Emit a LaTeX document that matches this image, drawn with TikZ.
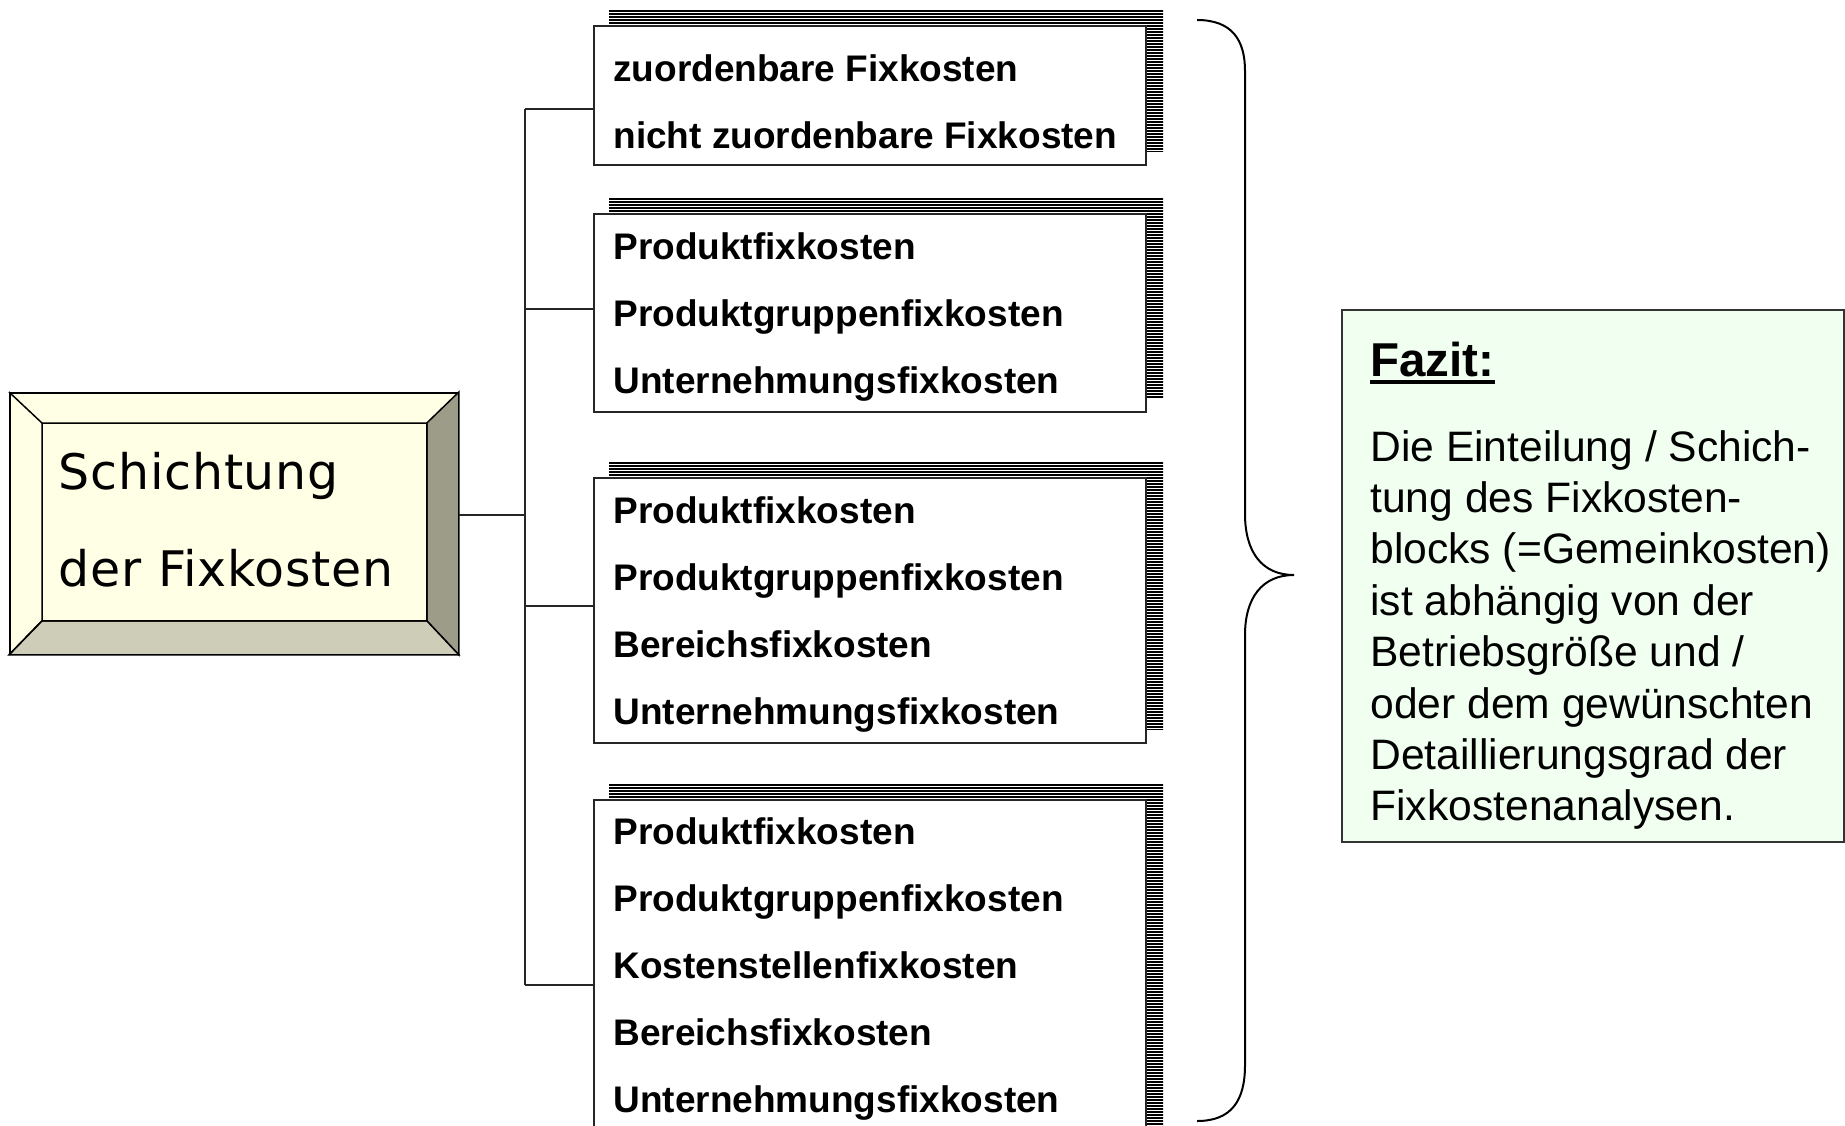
\documentclass[tikz,border=0pt]{standalone}
\usepackage{fontspec}
\setmainfont{Liberation Sans}
\newfontfamily\titlefont[LetterSpace=1.5]{DejaVu Sans}
\usetikzlibrary{calc,backgrounds}

\definecolor{bevelface}{HTML}{FFFFE6}
\definecolor{bevelright}{HTML}{9C9C88}
\definecolor{bevelbottom}{HTML}{CDCDB8}
\definecolor{fazitgreen}{HTML}{F0FFF0}

\tikzset{
  listbox/.style={draw=black!85, line width=1pt, fill=white, anchor=north west,
    minimum width=276pt, inner sep=0pt},
  rowtext/.style={anchor=base west, inner sep=0pt, font=\bfseries\fontsize{18.5}{22}\selectfont},
  fazittext/.style={anchor=base west, inner sep=0pt, font=\fontsize{21.3}{25}\selectfont},
  stripe/.style={line width=0.85pt, black},
  link/.style={line width=0.9pt, black!85},
}

% striped shadow behind a list box
\newcommand{\boxshadow}[1]{%
  \begin{scope}[on background layer]
    \begin{scope}
      \clip ($(#1.north west)+(16,-15)$) rectangle ($(#1.south east)+(16,-15)$);
      \foreach \k in {0,...,120}
        \draw[stripe] ($(#1.north west)+(0,-14+3*\k)$) -- ++(600,0);
    \end{scope}
  \end{scope}}

\begin{document}
\begin{tikzpicture}[x=0.5pt, y=-0.5pt]
  \useasboundingbox (0,0) rectangle (1845,1125);
  \begin{scope}[on background layer]
    \fill[white] (0,0) rectangle (1845,1125);
  \end{scope}

  % title block with bevel
  \node[draw, line width=0.9pt, fill=bevelface, anchor=north west, minimum width=224pt,
    minimum height=130.5pt, text width=175pt, inner xsep=24.5pt, align=left,
    font=\titlefont\fontsize{24.5}{48.25}\selectfont] (title) at (9,392)
    {Schichtung\\der Fixkosten\rule[-4pt]{0pt}{4pt}};
  \coordinate (tnw) at ($(title.north west)+(33,31)$);
  \coordinate (tne) at ($(title.north east)+(-32,31)$);
  \coordinate (tse) at ($(title.south east)+(-32,-34)$);
  \coordinate (tsw) at ($(title.south west)+(33,-34)$);
  \draw[line width=0.75pt, fill=bevelright] (title.north east) -- (title.south east) -- (tse) -- (tne) -- cycle;
  \draw[line width=0.75pt, fill=bevelbottom] (title.south west) -- (title.south east) -- (tse) -- (tsw) -- cycle;
  \draw[line width=0.75pt] (title.north west) -- (tnw) (title.south west) -- (tsw) (tnw) rectangle (tse);

  % list boxes
  \node[listbox, minimum height=69.5pt] (b1) at (593,25) {};
  \foreach \t [count=\i from 0] in {zuordenbare Fixkosten, nicht zuordenbare Fixkosten}
    \node[rowtext] (b1r\i) at ($(b1.north west)+(20,56+67*\i)$) {\t};

  \node[listbox, minimum height=99pt] (b2) at (593,213) {};
  \foreach \t [count=\i from 0] in {Produktfixkosten, Produktgruppenfixkosten, Unternehmungsfixkosten}
    \node[rowtext] (b2r\i) at ($(b2.north west)+(20,46+67*\i)$) {\t};

  \node[listbox, minimum height=132.5pt] (b3) at (593,477) {};
  \foreach \t [count=\i from 0] in {Produktfixkosten, Produktgruppenfixkosten, Bereichsfixkosten, Unternehmungsfixkosten}
    \node[rowtext] (b3r\i) at ($(b3.north west)+(20,46+67*\i)$) {\t};

  \node[listbox, minimum height=170pt] (b4) at (593,799) {};
  \foreach \t [count=\i from 0] in {Produktfixkosten, Produktgruppenfixkosten, Kostenstellenfixkosten, Bereichsfixkosten, Unternehmungsfixkosten}
    \node[rowtext] (b4r\i) at ($(b4.north west)+(20,45+67*\i)$) {\t};

  \boxshadow{b1}
  \boxshadow{b2}
  \boxshadow{b3}
  \boxshadow{b4}

  % tree lines
  \coordinate (spine) at (525,515);
  \draw[link] (title.east |- spine) -- (spine);
  \foreach \b/\s in {b1/13.5, b2/-4, b3/-4.5, b4/15} {
    \coordinate (j\b) at ($(\b.west)+(0,\s)$);
    \draw[link] (j\b) -- (j\b -| spine);
  }
  \draw[link] (jb1 -| spine) -- (jb4 -| spine);

  % brace
  \draw[line width=1pt] (1197,20) .. controls (1232,20) and (1245,40) .. (1245,71) -- (1245,514)
    .. controls (1245,552) and (1262,575) .. (1294,575)
    .. controls (1262,575) and (1245,598) .. (1245,635) -- (1245,1065)
    .. controls (1245,1100) and (1232,1121) .. (1197,1121);

  % conclusion
  \node[draw=black!80, line width=1pt, fill=fazitgreen, anchor=north west, minimum width=251pt,
    minimum height=266pt, inner sep=0pt] (fazit) at (1341,309) {};
  \node[anchor=base west, inner sep=0pt, font=\bfseries\fontsize{23.75}{28}\selectfont] (fazithead) at (1370,376) {Fazit:};
  \draw[line width=2pt] ([yshift=-3pt]fazithead.base west) -- ([yshift=-3pt]fazithead.base east);
  \foreach \t [count=\i from 0] in {Die Einteilung / Schich-, tung des Fixkosten-, blocks (=Gemeinkosten),
      ist abhängig von der, Betriebsgröße und /, oder dem gewünschten, Detaillierungsgrad der, Fixkostenanalysen.}
    \node[fazittext] (fz\i) at (1370,461+51.4*\i) {\t};
\end{tikzpicture}
\end{document}
